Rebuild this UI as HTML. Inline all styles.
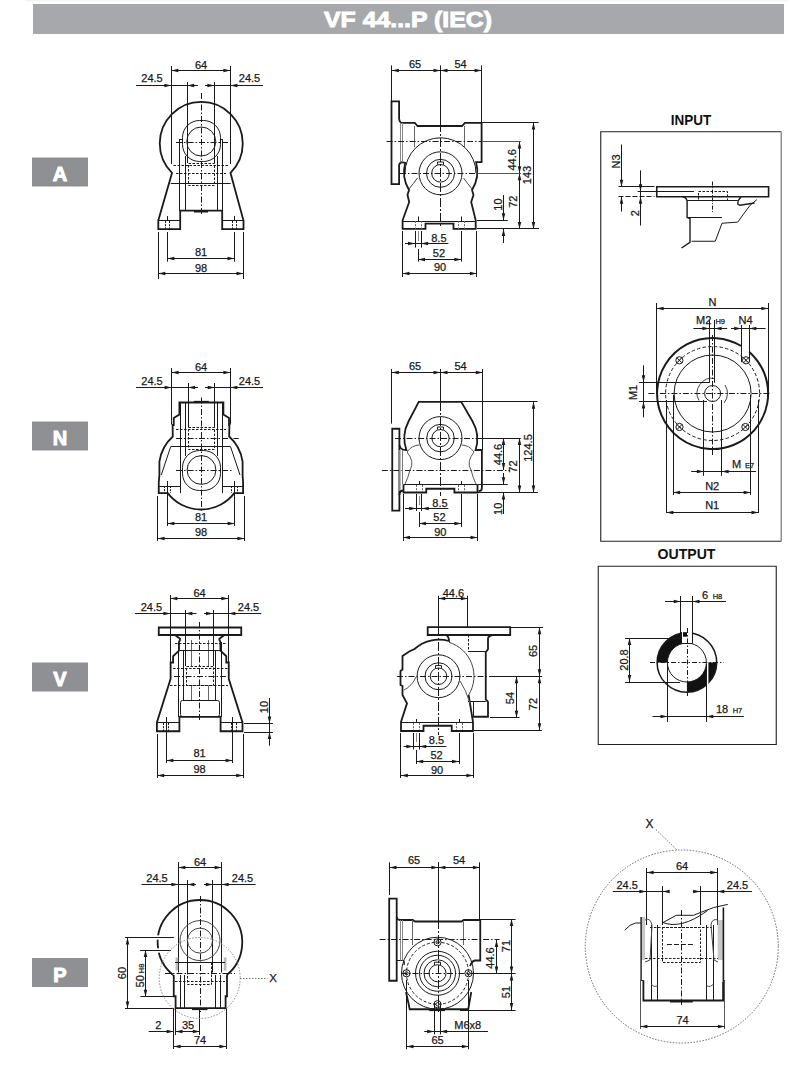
<!DOCTYPE html>
<html><head><meta charset="utf-8"><style>
html,body{margin:0;padding:0;background:#fff;width:800px;height:1072px;overflow:hidden}
svg{display:block;font-family:"Liberation Sans",sans-serif}
</style></head><body>
<svg width="800" height="1072" viewBox="0 0 800 1072">
<rect x="25" y="0" width="763" height="1.5" fill="#f4f4f4" stroke="none" stroke-width="0"/>
<rect x="33" y="4" width="751" height="30" fill="#a7a8ac" stroke="none" stroke-width="0"/>
<text x="408" y="26.5" font-size="22" text-anchor="middle" font-weight="bold" fill="#ffffff" stroke="#fff" stroke-width="0.9" textLength="168" lengthAdjust="spacingAndGlyphs">VF 44...P (IEC)</text>
<rect x="32" y="157.5" width="56" height="29" fill="#8f9094" stroke="none" stroke-width="0"/>
<text x="60" y="181" font-size="20" text-anchor="middle" font-weight="bold" fill="#ffffff" stroke="#fff" stroke-width="1">A</text>
<rect x="32" y="421.5" width="56" height="29" fill="#8f9094" stroke="none" stroke-width="0"/>
<text x="60" y="445" font-size="20" text-anchor="middle" font-weight="bold" fill="#ffffff" stroke="#fff" stroke-width="1">N</text>
<rect x="32" y="662.5" width="56" height="29" fill="#8f9094" stroke="none" stroke-width="0"/>
<text x="60" y="686" font-size="20" text-anchor="middle" font-weight="bold" fill="#ffffff" stroke="#fff" stroke-width="1">V</text>
<rect x="32" y="958" width="56" height="29" fill="#8f9094" stroke="none" stroke-width="0"/>
<text x="60" y="981.5" font-size="20" text-anchor="middle" font-weight="bold" fill="#ffffff" stroke="#fff" stroke-width="1">P</text>
<line x1="171.5" y1="66" x2="171.5" y2="164" stroke="#1a1a1a" stroke-width="1.0"/>
<line x1="230.5" y1="66" x2="230.5" y2="164" stroke="#1a1a1a" stroke-width="1.0"/>
<line x1="171.4" y1="70.5" x2="230.4" y2="70.5" stroke="#1a1a1a" stroke-width="1.0"/>
<polygon points="171.4,70.5 178.4,68.75 178.4,72.25" fill="#1a1a1a"/>
<polygon points="230.4,70.5 223.4,72.25 223.4,68.75" fill="#1a1a1a"/>
<text x="201" y="68.5" font-size="11" text-anchor="middle" font-weight="normal" fill="#1a1a1a" stroke="#1a1a1a" stroke-width="0.25">64</text>
<line x1="136" y1="85.5" x2="198" y2="85.5" stroke="#1a1a1a" stroke-width="1.0"/>
<polygon points="171.4,85.5 164.4,87.25 164.4,83.75" fill="#1a1a1a"/>
<polygon points="187.2,85.5 194.2,83.75 194.2,87.25" fill="#1a1a1a"/>
<line x1="205" y1="85.5" x2="263" y2="85.5" stroke="#1a1a1a" stroke-width="1.0"/>
<polygon points="214.4,85.5 207.4,87.25 207.4,83.75" fill="#1a1a1a"/>
<polygon points="230.4,85.5 237.4,83.75 237.4,87.25" fill="#1a1a1a"/>
<text x="152" y="82" font-size="11" text-anchor="middle" font-weight="normal" fill="#1a1a1a" stroke="#1a1a1a" stroke-width="0.25">24.5</text>
<text x="249.5" y="82" font-size="11" text-anchor="middle" font-weight="normal" fill="#1a1a1a" stroke="#1a1a1a" stroke-width="0.25">24.5</text>
<line x1="187.5" y1="82" x2="187.5" y2="163" stroke="#1a1a1a" stroke-width="1.0"/>
<line x1="214.5" y1="82" x2="214.5" y2="163" stroke="#1a1a1a" stroke-width="1.0"/>
<line x1="167.5" y1="232" x2="167.5" y2="261.7" stroke="#1a1a1a" stroke-width="1.0"/>
<line x1="234.5" y1="232" x2="234.5" y2="261.7" stroke="#1a1a1a" stroke-width="1.0"/>
<line x1="167.4" y1="258.5" x2="234.5" y2="258.5" stroke="#1a1a1a" stroke-width="1.0"/>
<polygon points="167.4,258.5 174.4,256.75 174.4,260.25" fill="#1a1a1a"/>
<polygon points="234.5,258.5 227.5,260.25 227.5,256.75" fill="#1a1a1a"/>
<text x="201" y="255.5" font-size="11" text-anchor="middle" font-weight="normal" fill="#1a1a1a" stroke="#1a1a1a" stroke-width="0.25">81</text>
<line x1="158.5" y1="232" x2="158.5" y2="279" stroke="#1a1a1a" stroke-width="1.0"/>
<line x1="243.5" y1="232" x2="243.5" y2="279" stroke="#1a1a1a" stroke-width="1.0"/>
<line x1="158.3" y1="273.5" x2="243.5" y2="273.5" stroke="#1a1a1a" stroke-width="1.0"/>
<polygon points="158.3,273.5 165.3,271.75 165.3,275.25" fill="#1a1a1a"/>
<polygon points="243.5,273.5 236.5,275.25 236.5,271.75" fill="#1a1a1a"/>
<text x="201" y="271.5" font-size="11" text-anchor="middle" font-weight="normal" fill="#1a1a1a" stroke="#1a1a1a" stroke-width="0.25">98</text>
<path d="M172,172.9 A41.5,41.5 0 1 1 230.5,172.9 L243.5,220.5 L243.5,229.2 L222.2,229.2 L222.2,210.7 L180.2,210.7 L180.2,229.2 L158.3,229.2 L158.3,220.5 Z" fill="none" stroke="#1a1a1a" stroke-width="1.8"/>
<line x1="158.3" y1="220.5" x2="180.2" y2="220.5" stroke="#1a1a1a" stroke-width="1.0"/>
<line x1="222.2" y1="220.5" x2="243.5" y2="220.5" stroke="#1a1a1a" stroke-width="1.0"/>
<line x1="165.5" y1="221" x2="165.5" y2="229" stroke="#1a1a1a" stroke-width="1.0" stroke-dasharray="2,1.2"/>
<line x1="169.5" y1="221" x2="169.5" y2="229" stroke="#1a1a1a" stroke-width="1.0" stroke-dasharray="2,1.2"/>
<line x1="232.5" y1="221" x2="232.5" y2="229" stroke="#1a1a1a" stroke-width="1.0" stroke-dasharray="2,1.2"/>
<line x1="236.5" y1="221" x2="236.5" y2="229" stroke="#1a1a1a" stroke-width="1.0" stroke-dasharray="2,1.2"/>
<line x1="167.5" y1="216" x2="167.5" y2="221" stroke="#1a1a1a" stroke-width="1.0"/>
<line x1="234.5" y1="216" x2="234.5" y2="221" stroke="#1a1a1a" stroke-width="1.0"/>
<rect x="182.5" y="120.5" width="38" height="41" rx="17" fill="none" stroke="#1a1a1a" stroke-width="1.0"/>
<circle cx="201.25" cy="141.5" r="14.5" fill="none" stroke="#1a1a1a" stroke-width="1.0"/>
<line x1="179.5" y1="139" x2="179.5" y2="210.7" stroke="#1a1a1a" stroke-width="1.0"/>
<line x1="222.5" y1="139" x2="222.5" y2="210.7" stroke="#1a1a1a" stroke-width="1.0"/>
<line x1="185.5" y1="156" x2="185.5" y2="210.7" stroke="#1a1a1a" stroke-width="1.0"/>
<line x1="217.5" y1="156" x2="217.5" y2="210.7" stroke="#1a1a1a" stroke-width="1.0"/>
<line x1="179.4" y1="139.5" x2="182" y2="139.5" stroke="#1a1a1a" stroke-width="1.0"/>
<line x1="220.6" y1="139.5" x2="222.5" y2="139.5" stroke="#1a1a1a" stroke-width="1.0"/>
<rect x="188.5" y="163.5" width="26" height="22" fill="none" stroke="#1a1a1a" stroke-width="1.0" stroke-dasharray="2.5,1.5"/>
<line x1="173.5" y1="165.5" x2="229" y2="165.5" stroke="#1a1a1a" stroke-width="1.0" stroke-dasharray="2.5,1.5"/>
<line x1="176" y1="173.5" x2="226" y2="173.5" stroke="#1a1a1a" stroke-width="1.0" stroke-dasharray="2.5,1.5"/>
<line x1="170.7" y1="183.5" x2="230.7" y2="183.5" stroke="#1a1a1a" stroke-width="1.0"/>
<line x1="201.5" y1="93" x2="201.5" y2="216" stroke="#1a1a1a" stroke-width="1.0" stroke-dasharray="6,2,1.5,2"/>
<line x1="176" y1="142.5" x2="228" y2="142.5" stroke="#1a1a1a" stroke-width="1.0" stroke-dasharray="6,2,1.5,2"/>
<line x1="194" y1="211.6" x2="208" y2="211.6" stroke="#1a1a1a" stroke-width="1.8"/>
<line x1="171.5" y1="368" x2="171.5" y2="424.4" stroke="#1a1a1a" stroke-width="1.0"/>
<line x1="230.5" y1="368" x2="230.5" y2="424.4" stroke="#1a1a1a" stroke-width="1.0"/>
<line x1="171.6" y1="372.5" x2="230.4" y2="372.5" stroke="#1a1a1a" stroke-width="1.0"/>
<polygon points="171.6,372.5 178.6,370.75 178.6,374.25" fill="#1a1a1a"/>
<polygon points="230.4,372.5 223.4,374.25 223.4,370.75" fill="#1a1a1a"/>
<text x="201" y="370.5" font-size="11" text-anchor="middle" font-weight="normal" fill="#1a1a1a" stroke="#1a1a1a" stroke-width="0.25">64</text>
<line x1="136" y1="387.5" x2="198" y2="387.5" stroke="#1a1a1a" stroke-width="1.0"/>
<polygon points="171.6,387.5 164.6,389.25 164.6,385.75" fill="#1a1a1a"/>
<polygon points="188.1,387.5 195.1,385.75 195.1,389.25" fill="#1a1a1a"/>
<line x1="205" y1="387.5" x2="263" y2="387.5" stroke="#1a1a1a" stroke-width="1.0"/>
<polygon points="214.75,387.5 207.75,389.25 207.75,385.75" fill="#1a1a1a"/>
<polygon points="230.4,387.5 237.4,385.75 237.4,389.25" fill="#1a1a1a"/>
<text x="152" y="384.5" font-size="11" text-anchor="middle" font-weight="normal" fill="#1a1a1a" stroke="#1a1a1a" stroke-width="0.25">24.5</text>
<text x="249.5" y="384.5" font-size="11" text-anchor="middle" font-weight="normal" fill="#1a1a1a" stroke="#1a1a1a" stroke-width="0.25">24.5</text>
<line x1="188.5" y1="383" x2="188.5" y2="427.5" stroke="#1a1a1a" stroke-width="1.0"/>
<line x1="214.5" y1="383" x2="214.5" y2="427.5" stroke="#1a1a1a" stroke-width="1.0"/>
<line x1="167.5" y1="481" x2="167.5" y2="526" stroke="#1a1a1a" stroke-width="1.0"/>
<line x1="234.5" y1="481" x2="234.5" y2="526" stroke="#1a1a1a" stroke-width="1.0"/>
<line x1="167.4" y1="523.5" x2="234.6" y2="523.5" stroke="#1a1a1a" stroke-width="1.0"/>
<polygon points="167.4,523.5 174.4,521.75 174.4,525.25" fill="#1a1a1a"/>
<polygon points="234.6,523.5 227.6,525.25 227.6,521.75" fill="#1a1a1a"/>
<text x="201" y="520.5" font-size="11" text-anchor="middle" font-weight="normal" fill="#1a1a1a" stroke="#1a1a1a" stroke-width="0.25">81</text>
<line x1="157.5" y1="496" x2="157.5" y2="541" stroke="#1a1a1a" stroke-width="1.0"/>
<line x1="244.5" y1="496" x2="244.5" y2="541" stroke="#1a1a1a" stroke-width="1.0"/>
<line x1="157.6" y1="538.5" x2="244.4" y2="538.5" stroke="#1a1a1a" stroke-width="1.0"/>
<polygon points="157.6,538.5 164.6,536.75 164.6,540.25" fill="#1a1a1a"/>
<polygon points="244.4,538.5 237.4,540.25 237.4,536.75" fill="#1a1a1a"/>
<text x="201" y="535.5" font-size="11" text-anchor="middle" font-weight="normal" fill="#1a1a1a" stroke="#1a1a1a" stroke-width="0.25">98</text>
<path d="M179.4,402.5 L223.4,402.5 L223.4,414.4 L229,418.1 L229,425 L229.4,425 L229.2,436.5 A42,42 0 0 1 242.6,461.7 L242.6,475 L243.1,482.5 L243.1,493.1 L234.3,493.1 A42,42 0 0 1 167.7,493.1 L158.75,493.1 L158.75,482.5 L159.4,475 L159.4,461.7 A42,42 0 0 1 172.8,436.5 L172.6,425 L173.75,425 L173.75,418.1 L179.4,414.4 Z" fill="none" stroke="#1a1a1a" stroke-width="1.8"/>
<line x1="180.5" y1="402.5" x2="180.5" y2="493.1" stroke="#1a1a1a" stroke-width="1.0"/>
<line x1="222.5" y1="402.5" x2="222.5" y2="493.1" stroke="#1a1a1a" stroke-width="1.0"/>
<line x1="185.5" y1="402.5" x2="185.5" y2="456" stroke="#1a1a1a" stroke-width="1.0"/>
<line x1="217.5" y1="402.5" x2="217.5" y2="456" stroke="#1a1a1a" stroke-width="1.0"/>
<line x1="158.75" y1="486.5" x2="180" y2="486.5" stroke="#1a1a1a" stroke-width="1.0"/>
<line x1="222.5" y1="486.5" x2="243.1" y2="486.5" stroke="#1a1a1a" stroke-width="1.0"/>
<line x1="193.75" y1="401.6" x2="208.75" y2="401.6" stroke="#1a1a1a" stroke-width="1.5"/>
<rect x="182.5" y="450.5" width="38" height="40" rx="17" fill="none" stroke="#1a1a1a" stroke-width="1.0"/>
<circle cx="201.5" cy="470" r="14.4" fill="none" stroke="#1a1a1a" stroke-width="1.0"/>
<rect x="188.5" y="427.5" width="26" height="22" fill="none" stroke="#1a1a1a" stroke-width="1.0" stroke-dasharray="2.5,1.5"/>
<line x1="176" y1="429.5" x2="226" y2="429.5" stroke="#1a1a1a" stroke-width="1.0" stroke-dasharray="2.5,1.5"/>
<line x1="176" y1="438.5" x2="238.75" y2="438.5" stroke="#1a1a1a" stroke-width="1.0" stroke-dasharray="6,2,1.5,2"/>
<line x1="170.6" y1="446.5" x2="230.6" y2="446.5" stroke="#1a1a1a" stroke-width="1.0"/>
<line x1="170.6" y1="446.9" x2="161.25" y2="475" stroke="#1a1a1a" stroke-width="1.0"/>
<line x1="230.6" y1="446.9" x2="240" y2="475" stroke="#1a1a1a" stroke-width="1.0"/>
<line x1="201.5" y1="397.5" x2="201.5" y2="512.5" stroke="#1a1a1a" stroke-width="1.0" stroke-dasharray="6,2,1.5,2"/>
<line x1="176" y1="470.5" x2="233" y2="470.5" stroke="#1a1a1a" stroke-width="1.0" stroke-dasharray="6,2,1.5,2"/>
<line x1="164.5" y1="486" x2="164.5" y2="493" stroke="#1a1a1a" stroke-width="1.0" stroke-dasharray="2,1.2"/>
<line x1="170.5" y1="486" x2="170.5" y2="493" stroke="#1a1a1a" stroke-width="1.0" stroke-dasharray="2,1.2"/>
<line x1="231.5" y1="486" x2="231.5" y2="493" stroke="#1a1a1a" stroke-width="1.0" stroke-dasharray="2,1.2"/>
<line x1="237.5" y1="486" x2="237.5" y2="493" stroke="#1a1a1a" stroke-width="1.0" stroke-dasharray="2,1.2"/>
<line x1="170.5" y1="595" x2="170.5" y2="662.5" stroke="#1a1a1a" stroke-width="1.0"/>
<line x1="228.5" y1="595" x2="228.5" y2="662.5" stroke="#1a1a1a" stroke-width="1.0"/>
<line x1="170.4" y1="598.5" x2="228.4" y2="598.5" stroke="#1a1a1a" stroke-width="1.0"/>
<polygon points="170.4,598.5 177.4,596.75 177.4,600.25" fill="#1a1a1a"/>
<polygon points="228.4,598.5 221.4,600.25 221.4,596.75" fill="#1a1a1a"/>
<text x="199.5" y="597" font-size="11" text-anchor="middle" font-weight="normal" fill="#1a1a1a" stroke="#1a1a1a" stroke-width="0.25">64</text>
<line x1="134.9" y1="613.5" x2="196.5" y2="613.5" stroke="#1a1a1a" stroke-width="1.0"/>
<polygon points="170.4,613.5 163.4,615.25 163.4,611.75" fill="#1a1a1a"/>
<polygon points="185.4,613.5 192.4,611.75 192.4,615.25" fill="#1a1a1a"/>
<line x1="204" y1="613.5" x2="261.3" y2="613.5" stroke="#1a1a1a" stroke-width="1.0"/>
<polygon points="213,613.5 206,615.25 206,611.75" fill="#1a1a1a"/>
<polygon points="228.4,613.5 235.4,611.75 235.4,615.25" fill="#1a1a1a"/>
<text x="151.4" y="610.8" font-size="11" text-anchor="middle" font-weight="normal" fill="#1a1a1a" stroke="#1a1a1a" stroke-width="0.25">24.5</text>
<text x="248.5" y="610.8" font-size="11" text-anchor="middle" font-weight="normal" fill="#1a1a1a" stroke="#1a1a1a" stroke-width="0.25">24.5</text>
<line x1="185.5" y1="610" x2="185.5" y2="666" stroke="#1a1a1a" stroke-width="1.0"/>
<line x1="213.5" y1="610" x2="213.5" y2="666" stroke="#1a1a1a" stroke-width="1.0"/>
<line x1="166.5" y1="717" x2="166.5" y2="763" stroke="#1a1a1a" stroke-width="1.0"/>
<line x1="232.5" y1="717" x2="232.5" y2="763" stroke="#1a1a1a" stroke-width="1.0"/>
<line x1="166.3" y1="760.5" x2="232.6" y2="760.5" stroke="#1a1a1a" stroke-width="1.0"/>
<polygon points="166.3,760.5 173.3,758.75 173.3,762.25" fill="#1a1a1a"/>
<polygon points="232.6,760.5 225.6,762.25 225.6,758.75" fill="#1a1a1a"/>
<text x="199.5" y="757.4" font-size="11" text-anchor="middle" font-weight="normal" fill="#1a1a1a" stroke="#1a1a1a" stroke-width="0.25">81</text>
<line x1="157.5" y1="734" x2="157.5" y2="778" stroke="#1a1a1a" stroke-width="1.0"/>
<line x1="243.5" y1="734" x2="243.5" y2="778" stroke="#1a1a1a" stroke-width="1.0"/>
<line x1="157.2" y1="775.5" x2="243.2" y2="775.5" stroke="#1a1a1a" stroke-width="1.0"/>
<polygon points="157.2,775.5 164.2,773.75 164.2,777.25" fill="#1a1a1a"/>
<polygon points="243.2,775.5 236.2,777.25 236.2,773.75" fill="#1a1a1a"/>
<text x="199.5" y="773" font-size="11" text-anchor="middle" font-weight="normal" fill="#1a1a1a" stroke="#1a1a1a" stroke-width="0.25">98</text>
<line x1="244" y1="723.5" x2="273" y2="723.5" stroke="#1a1a1a" stroke-width="1.0"/>
<line x1="244" y1="732.5" x2="273" y2="732.5" stroke="#1a1a1a" stroke-width="1.0"/>
<line x1="269.5" y1="698" x2="269.5" y2="745.7" stroke="#1a1a1a" stroke-width="1.0"/>
<polygon points="269.5,723.4 267.75,716.4 271.25,716.4" fill="#1a1a1a"/>
<polygon points="269.5,732 271.25,739 267.75,739" fill="#1a1a1a"/>
<text x="268" y="707" font-size="11" text-anchor="middle" font-weight="normal" fill="#1a1a1a" transform="rotate(-90 268 707)" stroke="#1a1a1a" stroke-width="0.25">10</text>
<polygon points="158.75,627.5 241.25,627.5 241.25,635 158.75,635" fill="none" stroke="#1a1a1a" stroke-width="1.8" stroke-linejoin="miter"/>
<path d="M175,635 L180,638.75 L180,640 L179,642 L179,650.6 L173.1,656.25 L173.1,662.5 L170.6,662.5 L170.6,678.75 L156.9,722.5 L156.9,731.25 L179.4,731.25 L179.4,716.9 L220.6,716.9 L220.6,731.25 L242.5,731.25 L242.5,722.5 L228.75,678.75 L228.75,662.5 L226.3,662.5 L226.3,656.25 L220.4,650.6 L220.4,642 L219.4,640 L219.4,638.75 L224.4,635" fill="none" stroke="#1a1a1a" stroke-width="1.8"/>
<line x1="156.9" y1="722.5" x2="179.4" y2="722.5" stroke="#1a1a1a" stroke-width="1.0"/>
<line x1="220.6" y1="722.5" x2="242.5" y2="722.5" stroke="#1a1a1a" stroke-width="1.0"/>
<rect x="180.5" y="700.5" width="39" height="16" rx="2" fill="none" stroke="#1a1a1a" stroke-width="1.0"/>
<line x1="178.5" y1="642" x2="178.5" y2="716.9" stroke="#1a1a1a" stroke-width="1.0"/>
<line x1="221.5" y1="642" x2="221.5" y2="716.9" stroke="#1a1a1a" stroke-width="1.0"/>
<line x1="183.5" y1="650.6" x2="183.5" y2="700" stroke="#1a1a1a" stroke-width="1.0"/>
<line x1="215.5" y1="650.6" x2="215.5" y2="700" stroke="#1a1a1a" stroke-width="1.0"/>
<line x1="191.5" y1="640" x2="191.5" y2="666" stroke="#666" stroke-width="1.0"/>
<line x1="191.5" y1="686" x2="191.5" y2="700" stroke="#666" stroke-width="1.0"/>
<line x1="208.5" y1="640" x2="208.5" y2="666" stroke="#666" stroke-width="1.0"/>
<line x1="208.5" y1="686" x2="208.5" y2="700" stroke="#666" stroke-width="1.0"/>
<rect x="186.5" y="666.5" width="27" height="19" fill="none" stroke="#1a1a1a" stroke-width="1.0" stroke-dasharray="2.5,1.5"/>
<line x1="175" y1="643.5" x2="226" y2="643.5" stroke="#1a1a1a" stroke-width="1.0" stroke-dasharray="2.5,1.5"/>
<line x1="180" y1="650.5" x2="220" y2="650.5" stroke="#1a1a1a" stroke-width="1.0"/>
<line x1="173" y1="668.5" x2="228" y2="668.5" stroke="#1a1a1a" stroke-width="1.0" stroke-dasharray="2.5,1.5"/>
<line x1="174" y1="676.5" x2="226" y2="676.5" stroke="#1a1a1a" stroke-width="1.0" stroke-dasharray="6,2,1.5,2"/>
<line x1="170" y1="685.5" x2="228" y2="685.5" stroke="#1a1a1a" stroke-width="1.0" stroke-dasharray="2.5,1.5"/>
<line x1="199.5" y1="622" x2="199.5" y2="722" stroke="#1a1a1a" stroke-width="1.0" stroke-dasharray="6,2,1.5,2"/>
<line x1="163.5" y1="723" x2="163.5" y2="731" stroke="#1a1a1a" stroke-width="1.0" stroke-dasharray="2,1.2"/>
<line x1="168.5" y1="723" x2="168.5" y2="731" stroke="#1a1a1a" stroke-width="1.0" stroke-dasharray="2,1.2"/>
<line x1="231.5" y1="723" x2="231.5" y2="731" stroke="#1a1a1a" stroke-width="1.0" stroke-dasharray="2,1.2"/>
<line x1="236.5" y1="723" x2="236.5" y2="731" stroke="#1a1a1a" stroke-width="1.0" stroke-dasharray="2,1.2"/>
<line x1="178.5" y1="862" x2="178.5" y2="972.5" stroke="#1a1a1a" stroke-width="1.0"/>
<line x1="221.5" y1="862" x2="221.5" y2="972.5" stroke="#1a1a1a" stroke-width="1.0"/>
<line x1="178.4" y1="867.5" x2="221.6" y2="867.5" stroke="#1a1a1a" stroke-width="1.0"/>
<polygon points="178.4,867.5 185.4,865.75 185.4,869.25" fill="#1a1a1a"/>
<polygon points="221.6,867.5 214.6,869.25 214.6,865.75" fill="#1a1a1a"/>
<text x="200" y="865.6" font-size="11" text-anchor="middle" font-weight="normal" fill="#1a1a1a" stroke="#1a1a1a" stroke-width="0.25">64</text>
<line x1="141.6" y1="884.5" x2="196" y2="884.5" stroke="#1a1a1a" stroke-width="1.0"/>
<polygon points="178.4,884.5 171.4,886.25 171.4,882.75" fill="#1a1a1a"/>
<polygon points="187.4,884.5 194.4,882.75 194.4,886.25" fill="#1a1a1a"/>
<line x1="204" y1="884.5" x2="255.6" y2="884.5" stroke="#1a1a1a" stroke-width="1.0"/>
<polygon points="212.8,884.5 205.8,886.25 205.8,882.75" fill="#1a1a1a"/>
<polygon points="221.6,884.5 228.6,882.75 228.6,886.25" fill="#1a1a1a"/>
<text x="157" y="882.3" font-size="11" text-anchor="middle" font-weight="normal" fill="#1a1a1a" stroke="#1a1a1a" stroke-width="0.25">24.5</text>
<text x="242.5" y="882.3" font-size="11" text-anchor="middle" font-weight="normal" fill="#1a1a1a" stroke="#1a1a1a" stroke-width="0.25">24.5</text>
<line x1="187.5" y1="880" x2="187.5" y2="972.5" stroke="#1a1a1a" stroke-width="1.0"/>
<line x1="212.5" y1="880" x2="212.5" y2="972.5" stroke="#1a1a1a" stroke-width="1.0"/>
<line x1="127.5" y1="937.4" x2="127.5" y2="1008.6" stroke="#1a1a1a" stroke-width="1.0"/>
<polygon points="127.5,937.4 129.25,944.4 125.75,944.4" fill="#1a1a1a"/>
<polygon points="127.5,1008.6 125.75,1001.6 129.25,1001.6" fill="#1a1a1a"/>
<line x1="125" y1="937.5" x2="173.6" y2="937.5" stroke="#1a1a1a" stroke-width="1.0"/>
<line x1="125" y1="1008.5" x2="173.6" y2="1008.5" stroke="#1a1a1a" stroke-width="1.0"/>
<text x="125.5" y="973" font-size="11" text-anchor="middle" font-weight="normal" fill="#1a1a1a" transform="rotate(-90 125.5 973)" stroke="#1a1a1a" stroke-width="0.25">60</text>
<line x1="145.5" y1="950" x2="145.5" y2="996.8" stroke="#1a1a1a" stroke-width="1.0"/>
<polygon points="145.5,950 147.25,957 143.75,957" fill="#1a1a1a"/>
<polygon points="145.5,996.8 143.75,989.8 147.25,989.8" fill="#1a1a1a"/>
<line x1="140.4" y1="950.5" x2="158.2" y2="950.5" stroke="#1a1a1a" stroke-width="1.0"/>
<line x1="140.4" y1="996.5" x2="173.6" y2="996.5" stroke="#1a1a1a" stroke-width="1.0"/>
<text x="144" y="975.5" font-size="11" text-anchor="middle" fill="#1a1a1a" stroke="#1a1a1a" stroke-width="0.25" transform="rotate(-90 144 975.5)">50<tspan font-size="7.5" dx="2">H8</tspan></text>
<line x1="148.7" y1="1031.5" x2="173.6" y2="1031.5" stroke="#1a1a1a" stroke-width="1.0"/>
<polygon points="173.6,1031.5 166.6,1033.25 166.6,1029.75" fill="#1a1a1a"/>
<text x="158.2" y="1028.8" font-size="11" text-anchor="middle" font-weight="normal" fill="#1a1a1a" stroke="#1a1a1a" stroke-width="0.25">2</text>
<line x1="175.5" y1="1031.5" x2="199.8" y2="1031.5" stroke="#1a1a1a" stroke-width="1.0"/>
<polygon points="175.5,1031.5 182.5,1029.75 182.5,1033.25" fill="#1a1a1a"/>
<polygon points="199.8,1031.5 192.8,1033.25 192.8,1029.75" fill="#1a1a1a"/>
<text x="188" y="1028.8" font-size="11" text-anchor="middle" font-weight="normal" fill="#1a1a1a" stroke="#1a1a1a" stroke-width="0.25">35</text>
<line x1="173.5" y1="1008" x2="173.5" y2="1049" stroke="#1a1a1a" stroke-width="1.0"/>
<line x1="175.5" y1="1008" x2="175.5" y2="1035" stroke="#1a1a1a" stroke-width="1.0"/>
<line x1="199.5" y1="1010" x2="199.5" y2="1035" stroke="#1a1a1a" stroke-width="1.0"/>
<line x1="226.5" y1="1008" x2="226.5" y2="1049" stroke="#1a1a1a" stroke-width="1.0"/>
<line x1="173.6" y1="1046.5" x2="226.4" y2="1046.5" stroke="#1a1a1a" stroke-width="1.0"/>
<polygon points="173.6,1046.5 180.6,1044.75 180.6,1048.25" fill="#1a1a1a"/>
<polygon points="226.4,1046.5 219.4,1048.25 219.4,1044.75" fill="#1a1a1a"/>
<text x="200" y="1044.3" font-size="11" text-anchor="middle" font-weight="normal" fill="#1a1a1a" stroke="#1a1a1a" stroke-width="0.25">74</text>
<rect x="175.6" y="957.5" width="2.6" height="13" fill="#bbb" stroke="none" stroke-width="0"/>
<rect x="223.8" y="957.5" width="2.7" height="13" fill="#bbb" stroke="none" stroke-width="0"/>
<path d="M173.1,975 A42.3,42.3 0 1 1 226.8,975" fill="none" stroke="#1a1a1a" stroke-width="1.8"/>
<rect x="155" y="935.3" width="5" height="4.4" fill="#fff" stroke="none" stroke-width="0"/>
<rect x="155" y="948.3" width="5" height="4.4" fill="#fff" stroke="none" stroke-width="0"/>
<line x1="125" y1="937.5" x2="173.6" y2="937.5" stroke="#1a1a1a" stroke-width="1.0"/>
<line x1="140.4" y1="950.5" x2="171" y2="950.5" stroke="#1a1a1a" stroke-width="1.0"/>
<path d="M173.75,975 L173.75,996.25 L175.6,996.25 L175.6,1008.1 L225.6,1008.1 L225.6,996.25 L227,996.25 L227,975" fill="none" stroke="#1a1a1a" stroke-width="1.8"/>
<line x1="192" y1="1009.2" x2="207.5" y2="1009.2" stroke="#1a1a1a" stroke-width="1.8"/>
<circle cx="200" cy="940.6" r="20" fill="none" stroke="#444" stroke-width="1.0"/>
<circle cx="200" cy="940.6" r="12.5" fill="none" stroke="#444" stroke-width="1.0"/>
<rect x="187.5" y="962.5" width="24" height="22" fill="none" stroke="#1a1a1a" stroke-width="1.0" stroke-dasharray="2.5,1.5"/>
<line x1="175" y1="962.5" x2="225" y2="962.5" stroke="#1a1a1a" stroke-width="1.0"/>
<line x1="165" y1="973.5" x2="235" y2="973.5" stroke="#1a1a1a" stroke-width="1.0" stroke-dasharray="6,2,1.5,2"/>
<line x1="175" y1="981.5" x2="225" y2="981.5" stroke="#1a1a1a" stroke-width="1.0" stroke-dasharray="2.5,1.5"/>
<line x1="180.5" y1="975" x2="180.5" y2="1008" stroke="#1a1a1a" stroke-width="1.0"/>
<line x1="184.5" y1="975" x2="184.5" y2="1008" stroke="#1a1a1a" stroke-width="1.0"/>
<line x1="215.5" y1="975" x2="215.5" y2="1008" stroke="#1a1a1a" stroke-width="1.0"/>
<line x1="220.5" y1="975" x2="220.5" y2="1008" stroke="#1a1a1a" stroke-width="1.0"/>
<line x1="200.5" y1="896" x2="200.5" y2="1012" stroke="#1a1a1a" stroke-width="1.0" stroke-dasharray="6,2,1.5,2"/>
<circle cx="199.7" cy="978" r="40.5" fill="none" stroke="#8a8a8a" stroke-width="1.0" stroke-dasharray="1.5,1.5"/>
<line x1="240" y1="978.5" x2="267.5" y2="978.5" stroke="#777" stroke-width="1.0" stroke-dasharray="1.5,1.5"/>
<text x="273" y="982" font-size="11.5" text-anchor="middle" font-weight="normal" fill="#1a1a1a" stroke="#1a1a1a" stroke-width="0.25">X</text>
<line x1="391.5" y1="65.4" x2="391.5" y2="101" stroke="#1a1a1a" stroke-width="1.0"/>
<line x1="481.5" y1="65.4" x2="481.5" y2="122.8" stroke="#1a1a1a" stroke-width="1.0"/>
<line x1="391.9" y1="70.5" x2="440.5" y2="70.5" stroke="#1a1a1a" stroke-width="1.0"/>
<polygon points="391.9,70.5 398.9,68.75 398.9,72.25" fill="#1a1a1a"/>
<polygon points="440.5,70.5 433.5,72.25 433.5,68.75" fill="#1a1a1a"/>
<line x1="440.5" y1="70.5" x2="481.6" y2="70.5" stroke="#1a1a1a" stroke-width="1.0"/>
<polygon points="440.5,70.5 447.5,68.75 447.5,72.25" fill="#1a1a1a"/>
<polygon points="481.6,70.5 474.6,72.25 474.6,68.75" fill="#1a1a1a"/>
<text x="415" y="67.5" font-size="11" text-anchor="middle" font-weight="normal" fill="#1a1a1a" stroke="#1a1a1a" stroke-width="0.25">65</text>
<text x="460.5" y="67.5" font-size="11" text-anchor="middle" font-weight="normal" fill="#1a1a1a" stroke="#1a1a1a" stroke-width="0.25">54</text>
<line x1="482" y1="122.5" x2="538.6" y2="122.5" stroke="#1a1a1a" stroke-width="1.0"/>
<line x1="533.5" y1="122.4" x2="533.5" y2="228.9" stroke="#1a1a1a" stroke-width="1.0"/>
<polygon points="533.5,122.4 535.25,129.4 531.75,129.4" fill="#1a1a1a"/>
<polygon points="533.5,228.9 531.75,221.9 535.25,221.9" fill="#1a1a1a"/>
<text x="531" y="175" font-size="11" text-anchor="middle" font-weight="normal" fill="#1a1a1a" transform="rotate(-90 531 175)" stroke="#1a1a1a" stroke-width="0.25">143</text>
<line x1="519.5" y1="141.4" x2="519.5" y2="173.3" stroke="#1a1a1a" stroke-width="1.0"/>
<polygon points="519.5,141.4 521.25,148.4 517.75,148.4" fill="#1a1a1a"/>
<polygon points="519.5,173.3 517.75,166.3 521.25,166.3" fill="#1a1a1a"/>
<line x1="519.5" y1="173.3" x2="519.5" y2="228.9" stroke="#1a1a1a" stroke-width="1.0"/>
<polygon points="519.5,173.3 521.25,180.3 517.75,180.3" fill="#1a1a1a"/>
<polygon points="519.5,228.9 517.75,221.9 521.25,221.9" fill="#1a1a1a"/>
<text x="516.5" y="159.8" font-size="11" text-anchor="middle" font-weight="normal" fill="#1a1a1a" transform="rotate(-90 516.5 159.8)" stroke="#1a1a1a" stroke-width="0.25">44.6</text>
<text x="517" y="201.7" font-size="11" text-anchor="middle" font-weight="normal" fill="#1a1a1a" transform="rotate(-90 517 201.7)" stroke="#1a1a1a" stroke-width="0.25">72</text>
<line x1="477" y1="220.5" x2="507.8" y2="220.5" stroke="#1a1a1a" stroke-width="1.0"/>
<line x1="477" y1="228.5" x2="539" y2="228.5" stroke="#1a1a1a" stroke-width="1.0"/>
<line x1="503.5" y1="195" x2="503.5" y2="221" stroke="#1a1a1a" stroke-width="1.0"/>
<polygon points="503.5,220.2 501.75,213.2 505.25,213.2" fill="#1a1a1a"/>
<line x1="503.5" y1="228.9" x2="503.5" y2="243" stroke="#1a1a1a" stroke-width="1.0"/>
<polygon points="503.5,228.9 505.25,235.9 501.75,235.9" fill="#1a1a1a"/>
<text x="502" y="204.6" font-size="11" text-anchor="middle" font-weight="normal" fill="#1a1a1a" transform="rotate(-90 502 204.6)" stroke="#1a1a1a" stroke-width="0.25">10</text>
<line x1="415.5" y1="231" x2="415.5" y2="247.6" stroke="#1a1a1a" stroke-width="1.0"/>
<line x1="421.5" y1="231" x2="421.5" y2="247.6" stroke="#1a1a1a" stroke-width="1.0"/>
<line x1="418.5" y1="231" x2="418.5" y2="241" stroke="#888" stroke-width="1.0"/>
<line x1="405" y1="243.5" x2="448.4" y2="243.5" stroke="#1a1a1a" stroke-width="1.0"/>
<polygon points="415,243.5 408,245.25 408,241.75" fill="#1a1a1a"/>
<polygon points="421.15,243.5 428.15,241.75 428.15,245.25" fill="#1a1a1a"/>
<text x="438.9" y="241.5" font-size="11" text-anchor="middle" font-weight="normal" fill="#1a1a1a" stroke="#1a1a1a" stroke-width="0.25">8.5</text>
<line x1="418.5" y1="249" x2="418.5" y2="261.6" stroke="#1a1a1a" stroke-width="1.0"/>
<line x1="461.5" y1="231" x2="461.5" y2="261.6" stroke="#1a1a1a" stroke-width="1.0"/>
<line x1="418" y1="259.5" x2="461.4" y2="259.5" stroke="#1a1a1a" stroke-width="1.0"/>
<polygon points="418,259.5 425,257.75 425,261.25" fill="#1a1a1a"/>
<polygon points="461.4,259.5 454.4,261.25 454.4,257.75" fill="#1a1a1a"/>
<text x="438.9" y="257" font-size="11" text-anchor="middle" font-weight="normal" fill="#1a1a1a" stroke="#1a1a1a" stroke-width="0.25">52</text>
<line x1="402.5" y1="231" x2="402.5" y2="277" stroke="#1a1a1a" stroke-width="1.0"/>
<line x1="476.5" y1="231" x2="476.5" y2="277" stroke="#1a1a1a" stroke-width="1.0"/>
<line x1="402.5" y1="273.5" x2="476.9" y2="273.5" stroke="#1a1a1a" stroke-width="1.0"/>
<polygon points="402.5,273.5 409.5,271.75 409.5,275.25" fill="#1a1a1a"/>
<polygon points="476.9,273.5 469.9,275.25 469.9,271.75" fill="#1a1a1a"/>
<text x="440" y="271" font-size="11" text-anchor="middle" font-weight="normal" fill="#1a1a1a" stroke="#1a1a1a" stroke-width="0.25">90</text>
<path d="M391.5,101.3 L399.1,101.3 L399.1,118.5 Q399.5,122.8 402,122.8 L414.8,122.8 L417.6,126 L462,126 L464.9,122.8 L481.6,122.8 L481.6,162.2 L476.1,162.2 A35.5,35.5 0 0 1 472,190 L473.5,195 L471.2,202 L475.7,220.3 L475.7,228.8 L453.5,228.8 L453.5,223.6 L425.5,223.6 L425.5,228.8 L402.6,228.8 L402.6,220.3 L409.2,202 L407.5,195 L409,190 A35.5,35.5 0 0 1 405.2,162.9 L402,162.2 Q399.1,163 399.1,165.5 L399.1,184.2 L391.5,184.2 Z" fill="none" stroke="#1a1a1a" stroke-width="1.8"/>
<line x1="402.6" y1="221.5" x2="475.7" y2="221.5" stroke="#1a1a1a" stroke-width="1.0"/>
<path d="M405,173.3 A35.5,35.5 0 0 1 476,173.3" fill="none" stroke="#1a1a1a" stroke-width="1.0"/>
<circle cx="440.5" cy="173.3" r="21.5" fill="none" stroke="#1a1a1a" stroke-width="1.0"/>
<circle cx="440.5" cy="173.3" r="14" fill="none" stroke="#1a1a1a" stroke-width="1.0"/>
<circle cx="440.5" cy="173.3" r="8.8" fill="none" stroke="#1a1a1a" stroke-width="1.0"/>
<polyline points="437.5,164.8 437.5,162 443.5,162 443.5,164.8" fill="none" stroke="#1a1a1a" stroke-width="1.0" stroke-linejoin="miter"/>
<line x1="400.5" y1="122.8" x2="400.5" y2="162.2" stroke="#888" stroke-width="1.0"/>
<line x1="402.5" y1="122.8" x2="402.5" y2="162.2" stroke="#888" stroke-width="1.0"/>
<line x1="414.5" y1="126" x2="414.5" y2="147.2" stroke="#666" stroke-width="1.0"/>
<line x1="464.5" y1="126" x2="464.5" y2="147.2" stroke="#666" stroke-width="1.0"/>
<line x1="386.6" y1="141.5" x2="482" y2="141.5" stroke="#1a1a1a" stroke-width="1.0" stroke-dasharray="6,2,1.5,2"/>
<line x1="482" y1="141.5" x2="520.8" y2="141.5" stroke="#555" stroke-width="1.0"/>
<line x1="400" y1="173.5" x2="476" y2="173.5" stroke="#1a1a1a" stroke-width="1.0" stroke-dasharray="6,2,1.5,2"/>
<line x1="476" y1="173.5" x2="521" y2="173.5" stroke="#555" stroke-width="1.0"/>
<line x1="440.5" y1="65.4" x2="440.5" y2="123" stroke="#1a1a1a" stroke-width="1.0"/>
<line x1="440.5" y1="123" x2="440.5" y2="226" stroke="#1a1a1a" stroke-width="1.0" stroke-dasharray="9,2,2,2"/>
<path d="M409,189 Q413,184 417.5,178" fill="none" stroke="#444" stroke-width="1.0"/>
<path d="M472,189 Q468,184 463.5,178" fill="none" stroke="#444" stroke-width="1.0"/>
<line x1="415.5" y1="221" x2="415.5" y2="229" stroke="#666" stroke-width="1.0" stroke-dasharray="2,1.2"/>
<line x1="421.5" y1="221" x2="421.5" y2="229" stroke="#666" stroke-width="1.0" stroke-dasharray="2,1.2"/>
<line x1="458.5" y1="221" x2="458.5" y2="229" stroke="#666" stroke-width="1.0" stroke-dasharray="2,1.2"/>
<line x1="464.5" y1="221" x2="464.5" y2="229" stroke="#666" stroke-width="1.0" stroke-dasharray="2,1.2"/>
<line x1="418.5" y1="216.5" x2="418.5" y2="221" stroke="#1a1a1a" stroke-width="1.0"/>
<line x1="461.5" y1="216.5" x2="461.5" y2="221" stroke="#1a1a1a" stroke-width="1.0"/>
<line x1="391.5" y1="369" x2="391.5" y2="423.6" stroke="#1a1a1a" stroke-width="1.0"/>
<line x1="482.5" y1="369" x2="482.5" y2="450" stroke="#1a1a1a" stroke-width="1.0"/>
<line x1="391.9" y1="372.5" x2="440.5" y2="372.5" stroke="#1a1a1a" stroke-width="1.0"/>
<polygon points="391.9,372.5 398.9,370.75 398.9,374.25" fill="#1a1a1a"/>
<polygon points="440.5,372.5 433.5,374.25 433.5,370.75" fill="#1a1a1a"/>
<line x1="440.5" y1="372.5" x2="482.8" y2="372.5" stroke="#1a1a1a" stroke-width="1.0"/>
<polygon points="440.5,372.5 447.5,370.75 447.5,374.25" fill="#1a1a1a"/>
<polygon points="482.8,372.5 475.8,374.25 475.8,370.75" fill="#1a1a1a"/>
<text x="415" y="370" font-size="11" text-anchor="middle" font-weight="normal" fill="#1a1a1a" stroke="#1a1a1a" stroke-width="0.25">65</text>
<text x="460.5" y="370" font-size="11" text-anchor="middle" font-weight="normal" fill="#1a1a1a" stroke="#1a1a1a" stroke-width="0.25">54</text>
<line x1="462" y1="401.5" x2="537.5" y2="401.5" stroke="#1a1a1a" stroke-width="1.0"/>
<line x1="533.5" y1="401.8" x2="533.5" y2="492.5" stroke="#1a1a1a" stroke-width="1.0"/>
<polygon points="533.5,401.8 535.25,408.8 531.75,408.8" fill="#1a1a1a"/>
<polygon points="533.5,492.5 531.75,485.5 535.25,485.5" fill="#1a1a1a"/>
<text x="531.5" y="448" font-size="11" text-anchor="middle" font-weight="normal" fill="#1a1a1a" transform="rotate(-90 531.5 448)" stroke="#1a1a1a" stroke-width="0.25">124.5</text>
<line x1="476" y1="438.5" x2="520.8" y2="438.5" stroke="#1a1a1a" stroke-width="1.0"/>
<line x1="519.5" y1="438" x2="519.5" y2="492.5" stroke="#1a1a1a" stroke-width="1.0"/>
<polygon points="519.5,438 521.25,445 517.75,445" fill="#1a1a1a"/>
<polygon points="519.5,492.5 517.75,485.5 521.25,485.5" fill="#1a1a1a"/>
<text x="517" y="466.5" font-size="11" text-anchor="middle" font-weight="normal" fill="#1a1a1a" transform="rotate(-90 517 466.5)" stroke="#1a1a1a" stroke-width="0.25">72</text>
<line x1="503.5" y1="438" x2="503.5" y2="470" stroke="#1a1a1a" stroke-width="1.0"/>
<polygon points="503.5,438 505.25,445 501.75,445" fill="#1a1a1a"/>
<polygon points="503.5,470 501.75,463 505.25,463" fill="#1a1a1a"/>
<text x="502" y="454.5" font-size="11" text-anchor="middle" font-weight="normal" fill="#1a1a1a" transform="rotate(-90 502 454.5)" stroke="#1a1a1a" stroke-width="0.25">44.6</text>
<line x1="478" y1="484.5" x2="507.8" y2="484.5" stroke="#1a1a1a" stroke-width="1.0"/>
<line x1="478" y1="492.5" x2="538" y2="492.5" stroke="#1a1a1a" stroke-width="1.0"/>
<line x1="503.5" y1="473" x2="503.5" y2="484.2" stroke="#1a1a1a" stroke-width="1.0"/>
<polygon points="503.5,484.2 501.75,477.2 505.25,477.2" fill="#1a1a1a"/>
<line x1="503.5" y1="492.5" x2="503.5" y2="514" stroke="#1a1a1a" stroke-width="1.0"/>
<polygon points="503.5,492.5 505.25,499.5 501.75,499.5" fill="#1a1a1a"/>
<text x="502" y="508.8" font-size="11" text-anchor="middle" font-weight="normal" fill="#1a1a1a" transform="rotate(-90 502 508.8)" stroke="#1a1a1a" stroke-width="0.25">10</text>
<line x1="381.9" y1="470.5" x2="510" y2="470.5" stroke="#1a1a1a" stroke-width="1.0" stroke-dasharray="6,2,1.5,2"/>
<line x1="416.5" y1="494" x2="416.5" y2="511" stroke="#1a1a1a" stroke-width="1.0"/>
<line x1="421.5" y1="494" x2="421.5" y2="511" stroke="#1a1a1a" stroke-width="1.0"/>
<line x1="419.5" y1="496" x2="419.5" y2="505" stroke="#888" stroke-width="1.0"/>
<line x1="405" y1="508.5" x2="448.4" y2="508.5" stroke="#1a1a1a" stroke-width="1.0"/>
<polygon points="416.1,508.5 409.1,510.25 409.1,506.75" fill="#1a1a1a"/>
<polygon points="421.75,508.5 428.75,506.75 428.75,510.25" fill="#1a1a1a"/>
<text x="440" y="506.6" font-size="11" text-anchor="middle" font-weight="normal" fill="#1a1a1a" stroke="#1a1a1a" stroke-width="0.25">8.5</text>
<line x1="419.5" y1="512" x2="419.5" y2="527" stroke="#1a1a1a" stroke-width="1.0"/>
<line x1="461.5" y1="494" x2="461.5" y2="527" stroke="#1a1a1a" stroke-width="1.0"/>
<line x1="419" y1="523.5" x2="461.4" y2="523.5" stroke="#1a1a1a" stroke-width="1.0"/>
<polygon points="419,523.5 426,521.75 426,525.25" fill="#1a1a1a"/>
<polygon points="461.4,523.5 454.4,525.25 454.4,521.75" fill="#1a1a1a"/>
<text x="439.4" y="521" font-size="11" text-anchor="middle" font-weight="normal" fill="#1a1a1a" stroke="#1a1a1a" stroke-width="0.25">52</text>
<line x1="403.5" y1="494" x2="403.5" y2="541" stroke="#1a1a1a" stroke-width="1.0"/>
<line x1="477.5" y1="494" x2="477.5" y2="541" stroke="#1a1a1a" stroke-width="1.0"/>
<line x1="403" y1="537.5" x2="477.5" y2="537.5" stroke="#1a1a1a" stroke-width="1.0"/>
<polygon points="403,537.5 410,535.75 410,539.25" fill="#1a1a1a"/>
<polygon points="477.5,537.5 470.5,539.25 470.5,535.75" fill="#1a1a1a"/>
<text x="440.3" y="535.5" font-size="11" text-anchor="middle" font-weight="normal" fill="#1a1a1a" stroke="#1a1a1a" stroke-width="0.25">90</text>
<polygon points="392.25,428.75 399.4,428.75 399.4,510.6 392.25,510.6" fill="none" stroke="#1a1a1a" stroke-width="1.8" stroke-linejoin="miter"/>
<path d="M399.4,445 Q400,450 406.4,450 A36.2,36.2 0 0 1 408.6,421.25 L418.75,401.9 L461.25,401.9 L472.5,421.25 A36.2,36.2 0 0 1 475.6,450 L481.9,450 L481.9,488.1 Q481.9,491.2 478.5,491.2" fill="none" stroke="#1a1a1a" stroke-width="1.8"/>
<path d="M399.4,495 Q399.4,490.5 403.5,490.5 L403.5,484.4 L403.5,492.5 L426.25,492.5 L426.25,488.75 L454.4,488.75 L454.4,492.5 L477.5,492.5 L477.5,484.4" fill="none" stroke="#1a1a1a" stroke-width="1.8"/>
<line x1="403.5" y1="484.5" x2="477.5" y2="484.5" stroke="#1a1a1a" stroke-width="1.0"/>
<circle cx="440.5" cy="438.1" r="21.5" fill="none" stroke="#1a1a1a" stroke-width="1.0"/>
<circle cx="440.5" cy="438.1" r="13.75" fill="none" stroke="#1a1a1a" stroke-width="1.0"/>
<circle cx="440.5" cy="438.1" r="8.6" fill="none" stroke="#1a1a1a" stroke-width="1.0"/>
<polyline points="437.5,429.7 437.5,427 443.5,427 443.5,429.7" fill="none" stroke="#1a1a1a" stroke-width="1.0" stroke-linejoin="miter"/>
<line x1="399.5" y1="450" x2="399.5" y2="491" stroke="#888" stroke-width="1.0"/>
<line x1="402.5" y1="450" x2="402.5" y2="484.4" stroke="#777" stroke-width="1.0"/>
<path d="M407,452 Q415,462 410,470 Q408,478 405,484" fill="none" stroke="#555" stroke-width="1.0"/>
<path d="M474,452 Q466,462 471,470 Q473,478 476,484" fill="none" stroke="#555" stroke-width="1.0"/>
<path d="M407,452 Q412,445 419.5,445" fill="none" stroke="#555" stroke-width="1.0"/>
<path d="M474,452 Q469,445 461.5,445" fill="none" stroke="#555" stroke-width="1.0"/>
<line x1="440.5" y1="369" x2="440.5" y2="402" stroke="#1a1a1a" stroke-width="1.0"/>
<line x1="440.5" y1="402" x2="440.5" y2="496" stroke="#1a1a1a" stroke-width="1.0" stroke-dasharray="9,2,2,2"/>
<line x1="395" y1="438.5" x2="476" y2="438.5" stroke="#1a1a1a" stroke-width="1.0" stroke-dasharray="6,2,1.5,2"/>
<line x1="416.5" y1="485" x2="416.5" y2="492" stroke="#666" stroke-width="1.0" stroke-dasharray="2,1.2"/>
<line x1="422.5" y1="485" x2="422.5" y2="492" stroke="#666" stroke-width="1.0" stroke-dasharray="2,1.2"/>
<line x1="458.5" y1="485" x2="458.5" y2="492" stroke="#666" stroke-width="1.0" stroke-dasharray="2,1.2"/>
<line x1="464.5" y1="485" x2="464.5" y2="492" stroke="#666" stroke-width="1.0" stroke-dasharray="2,1.2"/>
<line x1="419.5" y1="481" x2="419.5" y2="485" stroke="#1a1a1a" stroke-width="1.0"/>
<line x1="461.5" y1="481" x2="461.5" y2="485" stroke="#1a1a1a" stroke-width="1.0"/>
<line x1="438.5" y1="595.75" x2="438.5" y2="627" stroke="#1a1a1a" stroke-width="1.0"/>
<line x1="467.5" y1="595.75" x2="467.5" y2="627" stroke="#1a1a1a" stroke-width="1.0"/>
<line x1="438.3" y1="598.5" x2="467.8" y2="598.5" stroke="#1a1a1a" stroke-width="1.0"/>
<polygon points="438.3,598.5 445.3,596.75 445.3,600.25" fill="#1a1a1a"/>
<polygon points="467.8,598.5 460.8,600.25 460.8,596.75" fill="#1a1a1a"/>
<text x="453.4" y="596.9" font-size="11" text-anchor="middle" font-weight="normal" fill="#1a1a1a" stroke="#1a1a1a" stroke-width="0.25">44.6</text>
<line x1="510" y1="627.5" x2="543" y2="627.5" stroke="#1a1a1a" stroke-width="1.0"/>
<line x1="539.5" y1="627.25" x2="539.5" y2="676.25" stroke="#1a1a1a" stroke-width="1.0"/>
<polygon points="539.5,627.25 541.25,634.25 537.75,634.25" fill="#1a1a1a"/>
<polygon points="539.5,676.25 537.75,669.25 541.25,669.25" fill="#1a1a1a"/>
<text x="537" y="650.9" font-size="11" text-anchor="middle" font-weight="normal" fill="#1a1a1a" transform="rotate(-90 537 650.9)" stroke="#1a1a1a" stroke-width="0.25">65</text>
<line x1="490" y1="676.5" x2="542" y2="676.5" stroke="#1a1a1a" stroke-width="1.0"/>
<line x1="539.5" y1="676.25" x2="539.5" y2="730.3" stroke="#1a1a1a" stroke-width="1.0"/>
<polygon points="539.5,676.25 541.25,683.25 537.75,683.25" fill="#1a1a1a"/>
<polygon points="539.5,730.3 537.75,723.3 541.25,723.3" fill="#1a1a1a"/>
<text x="537" y="704" font-size="11" text-anchor="middle" font-weight="normal" fill="#1a1a1a" transform="rotate(-90 537 704)" stroke="#1a1a1a" stroke-width="0.25">72</text>
<line x1="516.5" y1="676.25" x2="516.5" y2="717.7" stroke="#1a1a1a" stroke-width="1.0"/>
<polygon points="516.5,676.25 518.25,683.25 514.75,683.25" fill="#1a1a1a"/>
<polygon points="516.5,717.7 514.75,710.7 518.25,710.7" fill="#1a1a1a"/>
<line x1="490" y1="717.5" x2="519.5" y2="717.5" stroke="#1a1a1a" stroke-width="1.0"/>
<text x="514" y="698.1" font-size="11" text-anchor="middle" font-weight="normal" fill="#1a1a1a" transform="rotate(-90 514 698.1)" stroke="#1a1a1a" stroke-width="0.25">54</text>
<line x1="474" y1="730.5" x2="542" y2="730.5" stroke="#1a1a1a" stroke-width="1.0"/>
<line x1="413.5" y1="733" x2="413.5" y2="749.5" stroke="#1a1a1a" stroke-width="1.0"/>
<line x1="419.5" y1="733" x2="419.5" y2="749.5" stroke="#1a1a1a" stroke-width="1.0"/>
<line x1="416.5" y1="733" x2="416.5" y2="742" stroke="#888" stroke-width="1.0"/>
<line x1="403.6" y1="746.5" x2="446.4" y2="746.5" stroke="#1a1a1a" stroke-width="1.0"/>
<polygon points="413.3,746.5 406.3,748.25 406.3,744.75" fill="#1a1a1a"/>
<polygon points="419.3,746.5 426.3,744.75 426.3,748.25" fill="#1a1a1a"/>
<text x="436.5" y="744" font-size="11" text-anchor="middle" font-weight="normal" fill="#1a1a1a" stroke="#1a1a1a" stroke-width="0.25">8.5</text>
<line x1="416.5" y1="750" x2="416.5" y2="764" stroke="#1a1a1a" stroke-width="1.0"/>
<line x1="459.5" y1="733" x2="459.5" y2="764" stroke="#1a1a1a" stroke-width="1.0"/>
<line x1="416.2" y1="761.5" x2="459" y2="761.5" stroke="#1a1a1a" stroke-width="1.0"/>
<polygon points="416.2,761.5 423.2,759.75 423.2,763.25" fill="#1a1a1a"/>
<polygon points="459,761.5 452,763.25 452,759.75" fill="#1a1a1a"/>
<text x="436.5" y="758.7" font-size="11" text-anchor="middle" font-weight="normal" fill="#1a1a1a" stroke="#1a1a1a" stroke-width="0.25">52</text>
<line x1="400.5" y1="733" x2="400.5" y2="778" stroke="#1a1a1a" stroke-width="1.0"/>
<line x1="473.5" y1="733" x2="473.5" y2="778" stroke="#1a1a1a" stroke-width="1.0"/>
<line x1="400.9" y1="775.5" x2="473.4" y2="775.5" stroke="#1a1a1a" stroke-width="1.0"/>
<polygon points="400.9,775.5 407.9,773.75 407.9,777.25" fill="#1a1a1a"/>
<polygon points="473.4,775.5 466.4,777.25 466.4,773.75" fill="#1a1a1a"/>
<text x="437" y="773.5" font-size="11" text-anchor="middle" font-weight="normal" fill="#1a1a1a" stroke="#1a1a1a" stroke-width="0.25">90</text>
<polygon points="427.7,627.2 510.2,627.2 510.2,635 427.7,635" fill="none" stroke="#1a1a1a" stroke-width="1.8" stroke-linejoin="miter"/>
<path d="M492.5,635 Q488,636 488,638.75 L488,649.25 L485.75,652.25 L485.75,699.5 L488,701.75 L488,716.75 L473,716.75" fill="none" stroke="#1a1a1a" stroke-width="1.8"/>
<path d="M446,635 Q449,636.5 449,641 A36.5,36.5 0 0 0 414.5,649 L409.25,651.5 L402.5,656 L402.5,669.5 L400.5,671 L400.5,685 L402.5,686 L402.5,695 L407,703.25 L401,722 L401,731 L423.5,731 L423.5,725.75 L451.7,725.75 L451.7,731 L473,731 L473,722 L468.6,695" fill="none" stroke="#1a1a1a" stroke-width="1.8"/>
<line x1="401" y1="722.5" x2="473" y2="722.5" stroke="#1a1a1a" stroke-width="1.0"/>
<path d="M449,642.3 A35.5,35.5 0 0 1 468.6,695" fill="none" stroke="#444" stroke-width="1.0"/>
<circle cx="438.5" cy="676.25" r="21.4" fill="none" stroke="#1a1a1a" stroke-width="1.0"/>
<circle cx="438.5" cy="676.25" r="13.5" fill="none" stroke="#1a1a1a" stroke-width="1.0"/>
<circle cx="438.5" cy="676.25" r="8.25" fill="none" stroke="#1a1a1a" stroke-width="1.0"/>
<polyline points="435.5,668.3 435.5,665.6 441.5,665.6 441.5,668.3" fill="none" stroke="#1a1a1a" stroke-width="1.0" stroke-linejoin="miter"/>
<line x1="468.5" y1="635" x2="468.5" y2="652" stroke="#1a1a1a" stroke-width="1.0" stroke-dasharray="2.5,1.5"/>
<line x1="468" y1="651.5" x2="485.75" y2="651.5" stroke="#1a1a1a" stroke-width="1.0"/>
<line x1="468" y1="701.5" x2="485.75" y2="701.5" stroke="#1a1a1a" stroke-width="1.0"/>
<line x1="473.5" y1="701.75" x2="473.5" y2="716.75" stroke="#1a1a1a" stroke-width="1.0"/>
<line x1="397" y1="676.5" x2="490" y2="676.5" stroke="#1a1a1a" stroke-width="1.0" stroke-dasharray="6,2,1.5,2"/>
<line x1="438.5" y1="627" x2="438.5" y2="735" stroke="#1a1a1a" stroke-width="1.0" stroke-dasharray="9,2,2,2"/>
<path d="M404,690 Q412,686 416,677" fill="none" stroke="#555" stroke-width="1.0"/>
<path d="M470,703 Q466,690 460,681" fill="none" stroke="#555" stroke-width="1.0"/>
<line x1="413.5" y1="723" x2="413.5" y2="730" stroke="#666" stroke-width="1.0" stroke-dasharray="2,1.2"/>
<line x1="419.5" y1="723" x2="419.5" y2="730" stroke="#666" stroke-width="1.0" stroke-dasharray="2,1.2"/>
<line x1="456.5" y1="723" x2="456.5" y2="730" stroke="#666" stroke-width="1.0" stroke-dasharray="2,1.2"/>
<line x1="462.5" y1="723" x2="462.5" y2="730" stroke="#666" stroke-width="1.0" stroke-dasharray="2,1.2"/>
<line x1="416.5" y1="719" x2="416.5" y2="723" stroke="#1a1a1a" stroke-width="1.0"/>
<line x1="459.5" y1="719" x2="459.5" y2="723" stroke="#1a1a1a" stroke-width="1.0"/>
<line x1="389.5" y1="862.3" x2="389.5" y2="895" stroke="#1a1a1a" stroke-width="1.0"/>
<line x1="479.5" y1="862.3" x2="479.5" y2="919" stroke="#1a1a1a" stroke-width="1.0"/>
<line x1="389.5" y1="867.5" x2="438.4" y2="867.5" stroke="#1a1a1a" stroke-width="1.0"/>
<polygon points="389.5,867.5 396.5,865.75 396.5,869.25" fill="#1a1a1a"/>
<polygon points="438.4,867.5 431.4,869.25 431.4,865.75" fill="#1a1a1a"/>
<line x1="438.4" y1="867.5" x2="479.9" y2="867.5" stroke="#1a1a1a" stroke-width="1.0"/>
<polygon points="438.4,867.5 445.4,865.75 445.4,869.25" fill="#1a1a1a"/>
<polygon points="479.9,867.5 472.9,869.25 472.9,865.75" fill="#1a1a1a"/>
<text x="414" y="864.4" font-size="11" text-anchor="middle" font-weight="normal" fill="#1a1a1a" stroke="#1a1a1a" stroke-width="0.25">65</text>
<text x="459" y="864.4" font-size="11" text-anchor="middle" font-weight="normal" fill="#1a1a1a" stroke="#1a1a1a" stroke-width="0.25">54</text>
<line x1="480" y1="919.5" x2="515.6" y2="919.5" stroke="#1a1a1a" stroke-width="1.0"/>
<line x1="511.5" y1="919" x2="511.5" y2="973.4" stroke="#1a1a1a" stroke-width="1.0"/>
<polygon points="511.5,919 513.25,926 509.75,926" fill="#1a1a1a"/>
<polygon points="511.5,973.4 509.75,966.4 513.25,966.4" fill="#1a1a1a"/>
<text x="510" y="946" font-size="11" text-anchor="middle" font-weight="normal" fill="#1a1a1a" transform="rotate(-90 510 946)" stroke="#1a1a1a" stroke-width="0.25">71</text>
<line x1="496.5" y1="940" x2="496.5" y2="973.4" stroke="#1a1a1a" stroke-width="1.0"/>
<polygon points="496.5,940 498.25,947 494.75,947" fill="#1a1a1a"/>
<polygon points="496.5,973.4 494.75,966.4 498.25,966.4" fill="#1a1a1a"/>
<text x="494" y="958" font-size="11" text-anchor="middle" font-weight="normal" fill="#1a1a1a" transform="rotate(-90 494 958)" stroke="#1a1a1a" stroke-width="0.25">44.6</text>
<line x1="475" y1="973.5" x2="515.6" y2="973.5" stroke="#1a1a1a" stroke-width="1.0"/>
<line x1="511.5" y1="973.4" x2="511.5" y2="1010" stroke="#1a1a1a" stroke-width="1.0"/>
<polygon points="511.5,973.4 513.25,980.4 509.75,980.4" fill="#1a1a1a"/>
<polygon points="511.5,1010 509.75,1003 513.25,1003" fill="#1a1a1a"/>
<text x="510" y="992" font-size="11" text-anchor="middle" font-weight="normal" fill="#1a1a1a" transform="rotate(-90 510 992)" stroke="#1a1a1a" stroke-width="0.25">51</text>
<line x1="460" y1="1010.5" x2="515.6" y2="1010.5" stroke="#1a1a1a" stroke-width="1.0"/>
<line x1="434.5" y1="1003" x2="434.5" y2="1034.4" stroke="#1a1a1a" stroke-width="1.0"/>
<line x1="440.5" y1="1003" x2="440.5" y2="1034.4" stroke="#1a1a1a" stroke-width="1.0"/>
<line x1="424.2" y1="1031.5" x2="488" y2="1031.5" stroke="#1a1a1a" stroke-width="1.0"/>
<polygon points="434.2,1031.5 427.2,1033.25 427.2,1029.75" fill="#1a1a1a"/>
<polygon points="440.1,1031.5 447.1,1029.75 447.1,1033.25" fill="#1a1a1a"/>
<text x="467.7" y="1029.1" font-size="11" text-anchor="middle" font-weight="normal" fill="#1a1a1a" stroke="#1a1a1a" stroke-width="0.25">M6x8</text>
<line x1="406.5" y1="980" x2="406.5" y2="1049.3" stroke="#1a1a1a" stroke-width="1.0"/>
<line x1="468.5" y1="980" x2="468.5" y2="1049.3" stroke="#1a1a1a" stroke-width="1.0"/>
<line x1="406.5" y1="1046.5" x2="468.8" y2="1046.5" stroke="#1a1a1a" stroke-width="1.0"/>
<polygon points="406.5,1046.5 413.5,1044.75 413.5,1048.25" fill="#1a1a1a"/>
<polygon points="468.8,1046.5 461.8,1048.25 461.8,1044.75" fill="#1a1a1a"/>
<text x="437.6" y="1044" font-size="11" text-anchor="middle" font-weight="normal" fill="#1a1a1a" stroke="#1a1a1a" stroke-width="0.25">65</text>
<polygon points="389.2,898.7 396.7,898.7 396.7,980.75 389.2,980.75" fill="none" stroke="#1a1a1a" stroke-width="1.8" stroke-linejoin="miter"/>
<path d="M396.7,917 Q397,920 400,920 L412.75,920 L415,921.5 L461.5,921.5 L463.75,920 L480.25,920 L480.25,960.5 L475,960.5 Q472,961 470,966" fill="none" stroke="#1a1a1a" stroke-width="1.8"/>
<path d="M396.7,960.5 L403,960.5 Q405,961 404,965" fill="none" stroke="#1a1a1a" stroke-width="1.2"/>
<circle cx="437.5" cy="973.25" r="36" fill="none" stroke="#1a1a1a" stroke-width="1.0"/>
<circle cx="437.5" cy="973.25" r="31" fill="none" stroke="#1a1a1a" stroke-width="1.0" stroke-dasharray="3,2"/>
<circle cx="437.5" cy="942.25" r="3.6" fill="none" stroke="#1a1a1a" stroke-width="1.0"/>
<circle cx="437.5" cy="942.25" r="1.6" fill="none" stroke="#1a1a1a" stroke-width="1.0"/>
<circle cx="406.5" cy="973.25" r="3.6" fill="none" stroke="#1a1a1a" stroke-width="1.0"/>
<circle cx="406.5" cy="973.25" r="1.6" fill="none" stroke="#1a1a1a" stroke-width="1.0"/>
<circle cx="468.5" cy="973.25" r="3.6" fill="none" stroke="#1a1a1a" stroke-width="1.0"/>
<circle cx="468.5" cy="973.25" r="1.6" fill="none" stroke="#1a1a1a" stroke-width="1.0"/>
<circle cx="437.5" cy="1004.25" r="3.6" fill="none" stroke="#1a1a1a" stroke-width="1.0"/>
<circle cx="437.5" cy="1004.25" r="1.6" fill="none" stroke="#1a1a1a" stroke-width="1.0"/>
<circle cx="437.5" cy="973.25" r="22" fill="none" stroke="#1a1a1a" stroke-width="1.0"/>
<circle cx="437.5" cy="973.25" r="18" fill="none" stroke="#1a1a1a" stroke-width="1.0"/>
<circle cx="437.5" cy="973.25" r="13.5" fill="none" stroke="#1a1a1a" stroke-width="1.0"/>
<circle cx="437.5" cy="973.25" r="8.5" fill="none" stroke="#1a1a1a" stroke-width="1.0"/>
<polyline points="434.5,965 434.5,962.2 440.5,962.2 440.5,965" fill="none" stroke="#1a1a1a" stroke-width="1.0" stroke-linejoin="miter"/>
<path d="M406,992 L409.75,1009.25 L468.25,1009.25 L471.25,992" fill="none" stroke="#1a1a1a" stroke-width="1.8"/>
<line x1="429.25" y1="1010.2" x2="445" y2="1010.2" stroke="#1a1a1a" stroke-width="1.8"/>
<line x1="412.5" y1="920" x2="412.5" y2="945" stroke="#666" stroke-width="1.0"/>
<line x1="463.5" y1="921.5" x2="463.5" y2="945" stroke="#666" stroke-width="1.0"/>
<line x1="400.5" y1="920" x2="400.5" y2="960.5" stroke="#888" stroke-width="1.0"/>
<line x1="402.5" y1="920" x2="402.5" y2="960.5" stroke="#888" stroke-width="1.0"/>
<line x1="379.6" y1="939.5" x2="499.6" y2="939.5" stroke="#1a1a1a" stroke-width="1.0" stroke-dasharray="6,2,1.5,2"/>
<line x1="438.5" y1="862" x2="438.5" y2="920" stroke="#1a1a1a" stroke-width="1.0"/>
<line x1="438.5" y1="920" x2="438.5" y2="1012" stroke="#1a1a1a" stroke-width="1.0" stroke-dasharray="9,2,2,2"/>
<line x1="401" y1="973.5" x2="475" y2="973.5" stroke="#1a1a1a" stroke-width="1.0" stroke-dasharray="6,2,1.5,2"/>
<text x="690.9" y="124.6" font-size="14" text-anchor="middle" font-weight="bold" fill="#111" textLength="40.5" lengthAdjust="spacingAndGlyphs">INPUT</text>
<polyline points="781.25,131.75 600.75,131.75 600.75,541.2 781.25,541.2" fill="none" stroke="#222" stroke-width="1.1" stroke-linejoin="miter"/>
<line x1="781.25" y1="131.75" x2="781.25" y2="541.2" stroke="#888" stroke-width="1.4"/>
<polygon points="656.75,186.8 768.6,186.8 768.6,196.7 656.75,196.7" fill="none" stroke="#1a1a1a" stroke-width="1.6" stroke-linejoin="miter"/>
<line x1="637.6" y1="191.5" x2="693.9" y2="191.5" stroke="#1a1a1a" stroke-width="1.0"/>
<rect x="698.5" y="191.5" width="29" height="9" fill="none" stroke="#1a1a1a" stroke-width="1.0" stroke-dasharray="2.5,1.5"/>
<line x1="712.5" y1="181.6" x2="712.5" y2="213.1" stroke="#1a1a1a" stroke-width="1.0" stroke-dasharray="4,1.5,1,1.5"/>
<path d="M682.6,196.7 Q687.1,197.5 687.1,201.9 L687.1,217.6 L690,218.5 L690,242.4 L681.5,248" fill="none" stroke="#1a1a1a" stroke-width="1.4"/>
<line x1="687.1" y1="200.5" x2="737.75" y2="200.5" stroke="#1a1a1a" stroke-width="1.0"/>
<line x1="687.1" y1="217.5" x2="722" y2="217.5" stroke="#1a1a1a" stroke-width="1.0"/>
<polyline points="691.6,241.25 715.25,241.25 722,223.25 737.75,222.1 743.4,214.25 750.1,205.25 756.9,199.6" fill="none" stroke="#1a1a1a" stroke-width="1.0" stroke-linejoin="miter"/>
<path d="M741.1,196.7 Q737.75,200 737.75,204.1 L740,205.25 L754.6,203" fill="none" stroke="#1a1a1a" stroke-width="1.3"/>
<line x1="621.5" y1="144.5" x2="621.5" y2="186.8" stroke="#1a1a1a" stroke-width="1.0"/>
<polygon points="621.5,186.8 619.75,179.8 623.25,179.8" fill="#1a1a1a"/>
<line x1="621.5" y1="196.7" x2="621.5" y2="211.6" stroke="#1a1a1a" stroke-width="1.0"/>
<polygon points="621.5,196.7 623.25,203.7 619.75,203.7" fill="#1a1a1a"/>
<line x1="618.5" y1="186.5" x2="654.5" y2="186.5" stroke="#1a1a1a" stroke-width="1.0"/>
<line x1="618.5" y1="196.5" x2="654.5" y2="196.5" stroke="#1a1a1a" stroke-width="1.0" stroke-dasharray="5,2"/>
<text x="620" y="161.4" font-size="11" text-anchor="middle" font-weight="normal" fill="#1a1a1a" transform="rotate(-90 620 161.4)" stroke="#1a1a1a" stroke-width="0.25">N3</text>
<line x1="640.5" y1="170.4" x2="640.5" y2="225.5" stroke="#1a1a1a" stroke-width="1.0"/>
<polygon points="640.5,191.3 638.75,184.3 642.25,184.3" fill="#1a1a1a"/>
<polygon points="640.5,196.7 642.25,203.7 638.75,203.7" fill="#1a1a1a"/>
<text x="639" y="213.1" font-size="11" text-anchor="middle" font-weight="normal" fill="#1a1a1a" transform="rotate(-90 639 213.1)" stroke="#1a1a1a" stroke-width="0.25">2</text>
<line x1="656.5" y1="303" x2="656.5" y2="393" stroke="#1a1a1a" stroke-width="1.0"/>
<line x1="768.5" y1="303" x2="768.5" y2="393" stroke="#1a1a1a" stroke-width="1.0"/>
<line x1="656.6" y1="308.5" x2="768.4" y2="308.5" stroke="#1a1a1a" stroke-width="1.0"/>
<polygon points="656.6,308.5 663.6,306.75 663.6,310.25" fill="#1a1a1a"/>
<polygon points="768.4,308.5 761.4,310.25 761.4,306.75" fill="#1a1a1a"/>
<text x="712.4" y="306" font-size="11" text-anchor="middle" font-weight="normal" fill="#1a1a1a" stroke="#1a1a1a" stroke-width="0.25">N</text>
<path d="M749.3,351.9 A55.5,55.5 0 1 1 741.25,346" fill="none" stroke="#1a1a1a" stroke-width="2.0"/>
<circle cx="712.6" cy="393.5" r="47" fill="none" stroke="#1a1a1a" stroke-width="1.0" stroke-dasharray="3.5,2.2"/>
<circle cx="712.6" cy="393.5" r="38.5" fill="none" stroke="#1a1a1a" stroke-width="1.0"/>
<path d="M715,378.5 A15,15 0 0 0 699,400.5" fill="none" stroke="#444" stroke-width="1.0"/>
<path d="M725,385 A15,15 0 0 1 724,403" fill="none" stroke="#444" stroke-width="1.0"/>
<circle cx="712.6" cy="393.5" r="8" fill="none" stroke="#1a1a1a" stroke-width="1.0"/>
<circle cx="679.4" cy="360.3" r="3.6" fill="none" stroke="#1a1a1a" stroke-width="1.0"/>
<line x1="676.9" y1="357.8" x2="681.9" y2="362.8" stroke="#1a1a1a" stroke-width="1.0"/>
<line x1="676.9" y1="362.8" x2="681.9" y2="357.8" stroke="#1a1a1a" stroke-width="1.0"/>
<circle cx="746" cy="360.3" r="3.6" fill="none" stroke="#1a1a1a" stroke-width="1.0"/>
<line x1="743.5" y1="357.8" x2="748.5" y2="362.8" stroke="#1a1a1a" stroke-width="1.0"/>
<line x1="743.5" y1="362.8" x2="748.5" y2="357.8" stroke="#1a1a1a" stroke-width="1.0"/>
<circle cx="679.5" cy="427" r="3.6" fill="none" stroke="#1a1a1a" stroke-width="1.0"/>
<line x1="677" y1="424.5" x2="682" y2="429.5" stroke="#1a1a1a" stroke-width="1.0"/>
<line x1="677" y1="429.5" x2="682" y2="424.5" stroke="#1a1a1a" stroke-width="1.0"/>
<circle cx="745.4" cy="427" r="3.6" fill="none" stroke="#1a1a1a" stroke-width="1.0"/>
<line x1="742.9" y1="424.5" x2="747.9" y2="429.5" stroke="#1a1a1a" stroke-width="1.0"/>
<line x1="742.9" y1="429.5" x2="747.9" y2="424.5" stroke="#1a1a1a" stroke-width="1.0"/>
<text x="703.75" y="324.3" font-size="11" text-anchor="middle" font-weight="normal" fill="#1a1a1a" stroke="#1a1a1a" stroke-width="0.25">M2</text>
<text x="720.2" y="324.3" font-size="7.5" text-anchor="middle" font-weight="normal" fill="#1a1a1a" stroke="#1a1a1a" stroke-width="0.25">H9</text>
<line x1="693.4" y1="328.5" x2="727.2" y2="328.5" stroke="#1a1a1a" stroke-width="1.0"/>
<polygon points="709.4,328.5 702.4,330.25 702.4,326.75" fill="#1a1a1a"/>
<polygon points="714.6,328.5 721.6,326.75 721.6,330.25" fill="#1a1a1a"/>
<line x1="709.5" y1="320" x2="709.5" y2="382.8" stroke="#1a1a1a" stroke-width="1.0"/>
<line x1="714.5" y1="320" x2="714.5" y2="382.8" stroke="#1a1a1a" stroke-width="1.0"/>
<line x1="712.5" y1="335" x2="712.5" y2="455" stroke="#1a1a1a" stroke-width="1.0" stroke-dasharray="6,2,1.5,2"/>
<text x="745.5" y="324.3" font-size="11" text-anchor="middle" font-weight="normal" fill="#1a1a1a" stroke="#1a1a1a" stroke-width="0.25">N4</text>
<line x1="731" y1="328.5" x2="765.6" y2="328.5" stroke="#1a1a1a" stroke-width="1.0"/>
<polygon points="741.25,328.5 734.25,330.25 734.25,326.75" fill="#1a1a1a"/>
<polygon points="749.3,328.5 756.3,326.75 756.3,330.25" fill="#1a1a1a"/>
<line x1="741.5" y1="325" x2="741.5" y2="362.2" stroke="#1a1a1a" stroke-width="1.0"/>
<line x1="749.5" y1="325" x2="749.5" y2="362.2" stroke="#1a1a1a" stroke-width="1.0"/>
<line x1="643.5" y1="365.3" x2="643.5" y2="417.4" stroke="#1a1a1a" stroke-width="1.0"/>
<polygon points="643.5,382.3 641.75,375.3 645.25,375.3" fill="#1a1a1a"/>
<polygon points="643.5,401.4 645.25,408.4 641.75,408.4" fill="#1a1a1a"/>
<line x1="639.1" y1="382.5" x2="709.25" y2="382.5" stroke="#1a1a1a" stroke-width="1.0"/>
<line x1="639.1" y1="401.5" x2="707" y2="401.5" stroke="#1a1a1a" stroke-width="1.0"/>
<text x="636.6" y="392.4" font-size="11" text-anchor="middle" font-weight="normal" fill="#1a1a1a" transform="rotate(-90 636.6 392.4)" stroke="#1a1a1a" stroke-width="0.25">M1</text>
<line x1="648.4" y1="393.5" x2="771.25" y2="393.5" stroke="#1a1a1a" stroke-width="1.0" stroke-dasharray="6,2,1.5,2"/>
<line x1="703.5" y1="400" x2="703.5" y2="475.8" stroke="#1a1a1a" stroke-width="1.0"/>
<line x1="721.5" y1="400" x2="721.5" y2="475.8" stroke="#1a1a1a" stroke-width="1.0"/>
<line x1="691.2" y1="471.5" x2="756" y2="471.5" stroke="#1a1a1a" stroke-width="1.0"/>
<polygon points="703.9,471.5 696.9,473.25 696.9,469.75" fill="#1a1a1a"/>
<polygon points="721.6,471.5 728.6,469.75 728.6,473.25" fill="#1a1a1a"/>
<text x="736.6" y="468.4" font-size="11" text-anchor="middle" font-weight="normal" fill="#1a1a1a" stroke="#1a1a1a" stroke-width="0.25">M</text>
<text x="749.6" y="468.4" font-size="7.5" text-anchor="middle" font-weight="normal" fill="#1a1a1a" stroke="#1a1a1a" stroke-width="0.25">E7</text>
<line x1="673.5" y1="395" x2="673.5" y2="495" stroke="#1a1a1a" stroke-width="1.0"/>
<line x1="750.5" y1="395" x2="750.5" y2="495" stroke="#1a1a1a" stroke-width="1.0"/>
<line x1="673.1" y1="492.5" x2="750.7" y2="492.5" stroke="#1a1a1a" stroke-width="1.0"/>
<polygon points="673.1,492.5 680.1,490.75 680.1,494.25" fill="#1a1a1a"/>
<polygon points="750.7,492.5 743.7,494.25 743.7,490.75" fill="#1a1a1a"/>
<text x="712.2" y="489.6" font-size="11" text-anchor="middle" font-weight="normal" fill="#1a1a1a" stroke="#1a1a1a" stroke-width="0.25">N2</text>
<line x1="666.5" y1="400" x2="666.5" y2="513" stroke="#1a1a1a" stroke-width="1.0"/>
<line x1="758.5" y1="400" x2="758.5" y2="513" stroke="#1a1a1a" stroke-width="1.0"/>
<line x1="666.3" y1="512.5" x2="758.5" y2="512.5" stroke="#1a1a1a" stroke-width="1.0"/>
<polygon points="666.3,512.5 673.3,510.75 673.3,514.25" fill="#1a1a1a"/>
<polygon points="758.5,512.5 751.5,514.25 751.5,510.75" fill="#1a1a1a"/>
<text x="712.2" y="508.75" font-size="11" text-anchor="middle" font-weight="normal" fill="#1a1a1a" stroke="#1a1a1a" stroke-width="0.25">N1</text>
<text x="686.5" y="559.3" font-size="14" text-anchor="middle" font-weight="bold" fill="#111" textLength="58" lengthAdjust="spacingAndGlyphs">OUTPUT</text>
<polygon points="598.25,566.25 776.25,566.25 776.25,744.5 598.25,744.5" fill="none" stroke="#222" stroke-width="1.1" stroke-linejoin="miter"/>
<path d="M681.73,633.15 A29.8,29.8 0 0 0 657.1,662.5 L667.4,662.5 A19.5,19.5 0 0 1 683.51,643.3 Z" fill="#111"/>
<path d="M686.9,692.3 A29.8,29.8 0 0 0 716.7,662.5 L706.4,662.5 A19.5,19.5 0 0 1 686.9,682 Z" fill="#111"/>
<circle cx="686.9" cy="662.5" r="29.8" fill="none" stroke="#1a1a1a" stroke-width="1.5"/>
<circle cx="686.9" cy="662.5" r="19.5" fill="none" stroke="#1a1a1a" stroke-width="1.0"/>
<rect x="681.5" y="631.5" width="11" height="11.5" fill="#fff" stroke="none" stroke-width="0"/>
<line x1="681.5" y1="632" x2="681.5" y2="643" stroke="#1a1a1a" stroke-width="1.0"/>
<line x1="692.5" y1="632" x2="692.5" y2="643" stroke="#1a1a1a" stroke-width="1.0"/>
<rect x="683" y="632.2" width="4" height="4.5" fill="#111" stroke="none" stroke-width="0"/>
<line x1="681.25" y1="643.5" x2="692.5" y2="643.5" stroke="#1a1a1a" stroke-width="1.0"/>
<line x1="665" y1="601.5" x2="726" y2="601.5" stroke="#1a1a1a" stroke-width="1.0"/>
<polygon points="680.75,601.5 673.75,603.25 673.75,599.75" fill="#1a1a1a"/>
<polygon points="692.5,601.5 699.5,599.75 699.5,603.25" fill="#1a1a1a"/>
<line x1="680.5" y1="596" x2="680.5" y2="637.5" stroke="#1a1a1a" stroke-width="1.0"/>
<line x1="692.5" y1="596" x2="692.5" y2="643" stroke="#1a1a1a" stroke-width="1.0"/>
<text x="705" y="598.75" font-size="11" text-anchor="middle" font-weight="normal" fill="#1a1a1a" stroke="#1a1a1a" stroke-width="0.25">6</text>
<text x="717.5" y="598.75" font-size="7.5" text-anchor="middle" font-weight="normal" fill="#1a1a1a" stroke="#1a1a1a" stroke-width="0.25">H8</text>
<line x1="687.5" y1="628" x2="687.5" y2="698" stroke="#1a1a1a" stroke-width="1.0" stroke-dasharray="5,2,1.5,2"/>
<line x1="650" y1="662.5" x2="724" y2="662.5" stroke="#1a1a1a" stroke-width="1.0" stroke-dasharray="5,2,1.5,2"/>
<line x1="625" y1="638.5" x2="680" y2="638.5" stroke="#1a1a1a" stroke-width="1.0"/>
<line x1="625" y1="682.5" x2="680" y2="682.5" stroke="#1a1a1a" stroke-width="1.0"/>
<line x1="629.5" y1="638" x2="629.5" y2="682" stroke="#1a1a1a" stroke-width="1.0"/>
<polygon points="629.5,638 631.25,645 627.75,645" fill="#1a1a1a"/>
<polygon points="629.5,682 627.75,675 631.25,675" fill="#1a1a1a"/>
<text x="628" y="660" font-size="11" text-anchor="middle" font-weight="normal" fill="#1a1a1a" transform="rotate(-90 628 660)" stroke="#1a1a1a" stroke-width="0.25">20.8</text>
<line x1="707.6" y1="662.5" x2="707.6" y2="693" stroke="#fff" stroke-width="1.6"/>
<line x1="667.5" y1="662" x2="667.5" y2="722" stroke="#1a1a1a" stroke-width="1.0"/>
<line x1="706.5" y1="664" x2="706.5" y2="722" stroke="#1a1a1a" stroke-width="1.0"/>
<line x1="652.5" y1="716.5" x2="743.75" y2="716.5" stroke="#1a1a1a" stroke-width="1.0"/>
<polygon points="667.5,716.5 660.5,718.25 660.5,714.75" fill="#1a1a1a"/>
<polygon points="706.25,716.5 713.25,714.75 713.25,718.25" fill="#1a1a1a"/>
<text x="722" y="713.25" font-size="11" text-anchor="middle" font-weight="normal" fill="#1a1a1a" stroke="#1a1a1a" stroke-width="0.25">18</text>
<text x="737.5" y="713.25" font-size="7.5" text-anchor="middle" font-weight="normal" fill="#1a1a1a" stroke="#1a1a1a" stroke-width="0.25">H7</text>
<circle cx="681.8" cy="946.5" r="96.5" fill="none" stroke="#666" stroke-width="1.0" stroke-dasharray="1.5,1.5"/>
<line x1="656" y1="829.7" x2="677" y2="850" stroke="#666" stroke-width="0.9" stroke-dasharray="1.5,1.5"/>
<text x="649.6" y="828" font-size="12" text-anchor="middle" font-weight="normal" fill="#1a1a1a" stroke="#1a1a1a" stroke-width="0.25">X</text>
<line x1="646.5" y1="868" x2="646.5" y2="925" stroke="#1a1a1a" stroke-width="1.0"/>
<line x1="717.5" y1="868" x2="717.5" y2="925" stroke="#1a1a1a" stroke-width="1.0"/>
<line x1="646.6" y1="872.5" x2="717.3" y2="872.5" stroke="#1a1a1a" stroke-width="1.0"/>
<polygon points="646.6,872.5 653.6,870.75 653.6,874.25" fill="#1a1a1a"/>
<polygon points="717.3,872.5 710.3,874.25 710.3,870.75" fill="#1a1a1a"/>
<text x="682" y="869.8" font-size="11" text-anchor="middle" font-weight="normal" fill="#1a1a1a" stroke="#1a1a1a" stroke-width="0.25">64</text>
<line x1="612.8" y1="891.5" x2="669" y2="891.5" stroke="#1a1a1a" stroke-width="1.0"/>
<polygon points="646.4,891.5 639.4,893.25 639.4,889.75" fill="#1a1a1a"/>
<polygon points="662.7,891.5 669.7,889.75 669.7,893.25" fill="#1a1a1a"/>
<line x1="692.9" y1="891.5" x2="752" y2="891.5" stroke="#1a1a1a" stroke-width="1.0"/>
<polygon points="700.2,891.5 693.2,893.25 693.2,889.75" fill="#1a1a1a"/>
<polygon points="717.3,891.5 724.3,889.75 724.3,893.25" fill="#1a1a1a"/>
<text x="627.2" y="888.7" font-size="11" text-anchor="middle" font-weight="normal" fill="#1a1a1a" stroke="#1a1a1a" stroke-width="0.25">24.5</text>
<text x="737.5" y="888.7" font-size="11" text-anchor="middle" font-weight="normal" fill="#1a1a1a" stroke="#1a1a1a" stroke-width="0.25">24.5</text>
<line x1="662.5" y1="886" x2="662.5" y2="925" stroke="#1a1a1a" stroke-width="1.0"/>
<line x1="700.5" y1="886" x2="700.5" y2="925" stroke="#1a1a1a" stroke-width="1.0"/>
<line x1="640.5" y1="980" x2="640.5" y2="1029" stroke="#555" stroke-width="1.0"/>
<line x1="724.5" y1="980" x2="724.5" y2="1029" stroke="#555" stroke-width="1.0"/>
<line x1="640.4" y1="1026.5" x2="724.9" y2="1026.5" stroke="#1a1a1a" stroke-width="1.0"/>
<polygon points="640.4,1026.5 647.4,1024.75 647.4,1028.25" fill="#1a1a1a"/>
<polygon points="724.9,1026.5 717.9,1028.25 717.9,1024.75" fill="#1a1a1a"/>
<text x="682.5" y="1023.9" font-size="11" text-anchor="middle" font-weight="normal" fill="#1a1a1a" stroke="#1a1a1a" stroke-width="0.25">74</text>
<rect x="641.1" y="917" width="4" height="43" fill="#c8c8c8" stroke="none" stroke-width="0"/>
<rect x="717.7" y="920" width="5.4" height="40" fill="#c8c8c8" stroke="none" stroke-width="0"/>
<path d="M643.4,980.2 L643.4,1000.5 L723.1,1000.5 L723.1,981.7" fill="none" stroke="#1a1a1a" stroke-width="1.8"/>
<line x1="641.1" y1="916.9" x2="641.1" y2="980.2" stroke="#1a1a1a" stroke-width="1.4"/>
<line x1="723.4" y1="907.5" x2="723.4" y2="981.7" stroke="#1a1a1a" stroke-width="1.6"/>
<line x1="670" y1="1001.6" x2="692.7" y2="1001.6" stroke="#1a1a1a" stroke-width="1.8"/>
<rect x="662.5" y="927.5" width="38" height="35" fill="none" stroke="#1a1a1a" stroke-width="1.0" stroke-dasharray="2.5,1.5"/>
<line x1="650" y1="927.5" x2="712" y2="927.5" stroke="#1a1a1a" stroke-width="1.0" stroke-dasharray="2.5,1.5"/>
<line x1="645" y1="958.5" x2="718" y2="958.5" stroke="#1a1a1a" stroke-width="1.0" stroke-dasharray="2.5,1.5"/>
<line x1="666.9" y1="944.5" x2="695" y2="944.5" stroke="#1a1a1a" stroke-width="1.0" stroke-dasharray="5,2"/>
<line x1="681.5" y1="910" x2="681.5" y2="1005" stroke="#1a1a1a" stroke-width="1.0" stroke-dasharray="6,2,1.5,2"/>
<line x1="651.5" y1="925" x2="651.5" y2="1000.5" stroke="#1a1a1a" stroke-width="1.0"/>
<line x1="657.5" y1="925" x2="657.5" y2="1000.5" stroke="#1a1a1a" stroke-width="1.0"/>
<line x1="706.5" y1="925" x2="706.5" y2="1000.5" stroke="#1a1a1a" stroke-width="1.0"/>
<line x1="713.5" y1="925" x2="713.5" y2="1000.5" stroke="#1a1a1a" stroke-width="1.0"/>
<path d="M624.7,930.2 Q630,924 635.6,923 L641,923" fill="none" stroke="#1a1a1a" stroke-width="1.0"/>
<polyline points="662.2,923 676.25,915.3 693.4,915.3 701.25,912.2 713.75,907.5 727.8,904.4" fill="none" stroke="#1a1a1a" stroke-width="1.0" stroke-linejoin="miter"/>
<path d="M662.2,922.3 Q681,930 707.5,910.6" fill="none" stroke="#1a1a1a" stroke-width="1.0"/>
<path d="M645,920 Q650,917 652,925 L650,960 L645,962" fill="none" stroke="#444" stroke-width="1.0"/>
<path d="M717.7,920 Q712,918 711,925 L714,960 L718,962" fill="none" stroke="#444" stroke-width="1.0"/>
<line x1="641.1" y1="980.5" x2="643.4" y2="980.5" stroke="#1a1a1a" stroke-width="1.0"/>
<line x1="723.1" y1="981.5" x2="723.4" y2="981.5" stroke="#1a1a1a" stroke-width="1.0"/>
<path d="M651,984 Q654,988 657.5,986" fill="none" stroke="#555" stroke-width="1.0"/>
<path d="M713.75,984 Q710,988 706.7,986" fill="none" stroke="#555" stroke-width="1.0"/>
</svg></body></html>
